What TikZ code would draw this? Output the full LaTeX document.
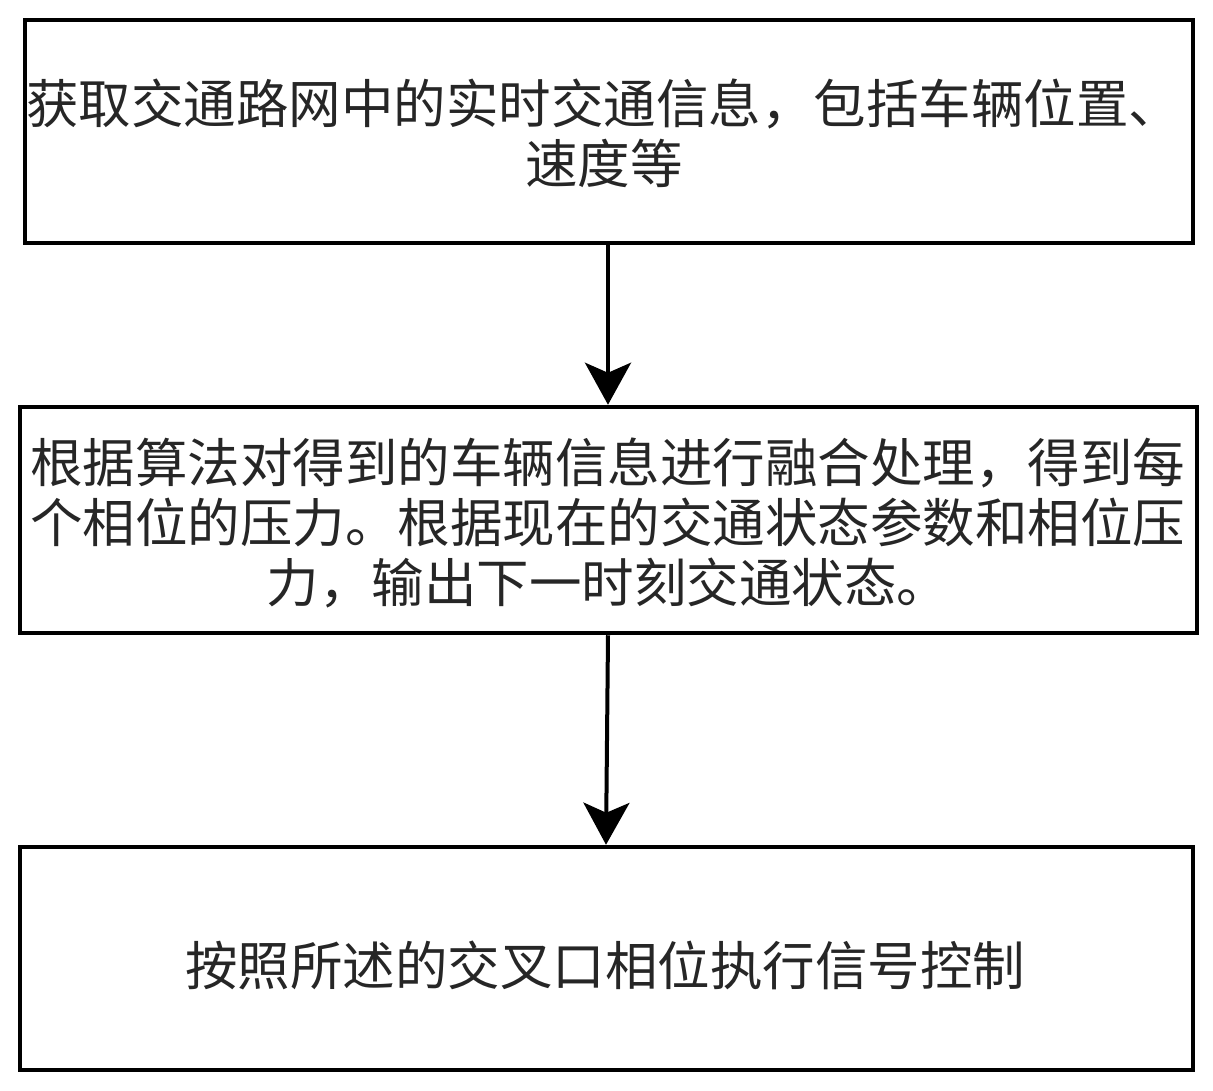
\documentclass[tikz,border=0pt]{standalone}
\usepackage{fontspec}
\newfontfamily\cjk{Noto Sans CJK SC}
\usetikzlibrary{arrows.meta}
\tikzset{
  stepbox/.style={draw=black, line width=4.5pt, inner sep=0pt},
  steptext/.style={font=\cjk\fontsize{52.5}{60}\selectfont, text=black!85, align=center, inner sep=0pt},
  flowarrow/.style={line width=4pt, -{Stealth[length=42pt, width=46pt, inset=10pt]}}
}
\begin{document}
\begin{tikzpicture}[x=1pt,y=-1pt]
\useasboundingbox (0,0) rectangle (1213,1090);
% boxes
\node[stepbox, minimum width=1168pt, minimum height=223pt] (b1) at (609,131.5) {};
\node[stepbox, minimum width=1177pt, minimum height=226pt] (b2) at (608.5,520) {};
\node[stepbox, minimum width=1173pt, minimum height=223pt] (b3) at (606.5,958.5) {};
% texts
\node[steptext] (t1) at (604,133) {获取交通路网中的实时交通信息，包括车辆位置、\\速度等};
\node[steptext] (t2) at (608,523) {根据算法对得到的车辆信息进行融合处理，得到每\\个相位的压力。根据现在的交通状态参数和相位压\\力，输出下一时刻交通状态。};
\node[steptext] (t3) at (605,965) {按照所述的交叉口相位执行信号控制};
% arrows
\draw[flowarrow] (b1.south -| 608,0) -- (b2.north -| 608,0);
\draw[flowarrow] (b2.south -| 608,0) -- (b3.north -| 606,0);
\end{tikzpicture}
\end{document}
